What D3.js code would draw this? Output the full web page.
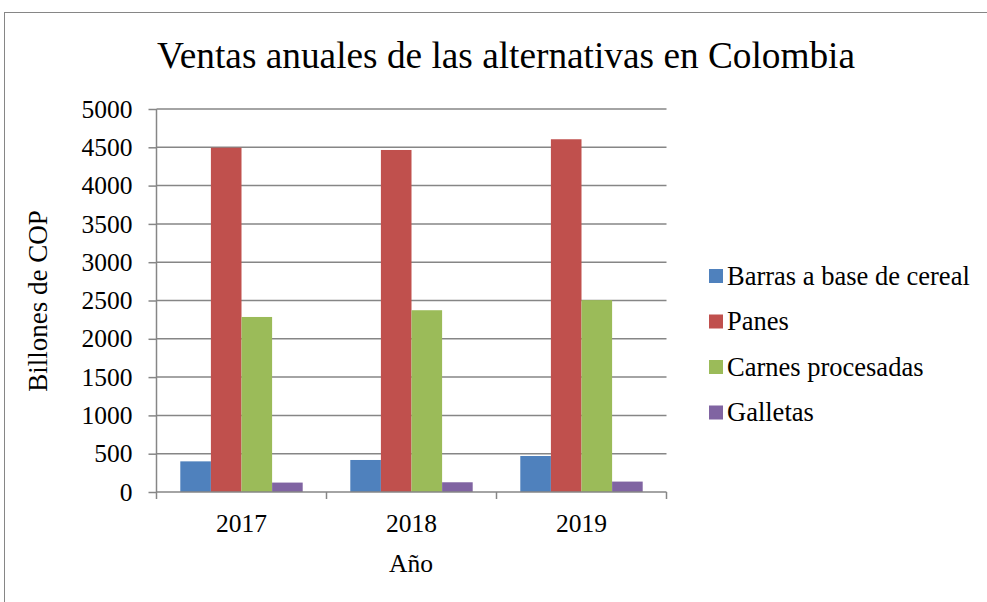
<!DOCTYPE html>
<html>
<head>
<meta charset="utf-8">
<script src="https://cdn.jsdelivr.net/npm/d3@7"></script>
<style>
  html, body { margin: 0; padding: 0; background: #fff; }
  svg { display: block; }
  svg text { font-family: "Liberation Serif", "Times New Roman", serif !important; fill: #000; }
</style>
</head>
<body>
<svg id="chart" width="987" height="602"></svg>
<script>
// Annual sales, billions of COP
const years = ["2017", "2018", "2019"];
const seriesNames = ["Barras a base de cereal", "Panes", "Carnes procesadas", "Galletas"];
const barras = [400, 418, 470];
const panes = [4495, 4465, 4605];
const carnes = [2285, 2373, 2505];
const galletas = [123, 127, 136];
const seriesColors = ["#4F81BD", "#C0504D", "#9BBB59", "#8064A2"];
const yTicks = [0, 500, 1000, 1500, 2000, 2500, 3000, 3500, 4000, 4500, 5000];

const seriesValues = [barras, panes, carnes, galletas];

const svg = d3.select("#chart");
const W = 987, H = 602;
const plot = { left: 156.5, right: 666.5, top: 109, bottom: 492 };
const labelSize = 25.5;

// Outer chart frame
svg.append("rect")
  .attr("x", 4.5).attr("y", 12.5)
  .attr("width", W + 10).attr("height", H + 10)
  .attr("fill", "#fff").attr("stroke", "#868686").attr("stroke-width", 1);

const x0 = d3.scaleBand().domain(years).range([plot.left, plot.right]).paddingInner(0).paddingOuter(0);
const groupPad = 0.14;
const x1 = d3.scaleBand().domain(seriesNames)
  .range([x0.bandwidth() * groupPad, x0.bandwidth() * (1 - groupPad)]);
const y = d3.scaleLinear().domain([0, 5000]).range([plot.bottom, plot.top]);

// Horizontal gridlines
svg.append("g").selectAll("line").data(yTicks.filter(d => d > 0)).join("line")
  .attr("x1", plot.left).attr("x2", plot.right)
  .attr("y1", d => y(d)).attr("y2", d => y(d))
  .attr("stroke", "#868686").attr("stroke-width", 1.5);

// Bars
const rows = years.map((yr, i) => ({ year: yr, vals: seriesNames.map((s, j) => ({ s, j, v: seriesValues[j][i] })) }));
svg.append("g").selectAll("g").data(rows).join("g")
  .attr("transform", d => `translate(${x0(d.year)},0)`)
  .selectAll("rect").data(d => d.vals).join("rect")
  .attr("x", d => x1(d.s)).attr("width", x1.bandwidth())
  .attr("y", d => y(d.v)).attr("height", d => y(0) - y(d.v))
  .attr("fill", d => seriesColors[d.j]);

// Y axis
const yAxis = d3.axisLeft(y).tickValues(yTicks).tickSize(8).tickPadding(16).tickFormat(d3.format("d"));
const gy = svg.append("g").attr("transform", `translate(${plot.left},0)`).call(yAxis)
  .attr("font-family", null).attr("font-size", labelSize);
gy.select(".domain").attr("stroke", "#868686").attr("stroke-width", 1.5).attr("d", `M0,${plot.top}V${plot.bottom}`);
gy.selectAll(".tick line").attr("stroke", "#868686").attr("stroke-width", 1.5);
gy.selectAll(".tick text").attr("fill", "#000");

// X axis: tick marks at category boundaries, labels centered
const gx = svg.append("g").attr("transform", `translate(0,${plot.bottom})`);
gx.append("line").attr("x1", plot.left).attr("x2", plot.right).attr("y1", 0).attr("y2", 0)
  .attr("stroke", "#868686").attr("stroke-width", 1.5);
const bounds = years.map(d => x0(d)).concat([plot.right]);
gx.selectAll("line.tk").data(bounds).join("line").attr("class", "tk")
  .attr("x1", d => d).attr("x2", d => d).attr("y1", 0).attr("y2", 7)
  .attr("stroke", "#868686").attr("stroke-width", 1.5);
gx.selectAll("text").data(years).join("text")
  .attr("x", d => x0(d) + x0.bandwidth() / 2).attr("y", 40)
  .attr("text-anchor", "middle").attr("font-size", labelSize).text(d => d);

// Titles
svg.append("text").attr("x", 506).attr("y", 68).attr("text-anchor", "middle")
  .attr("font-size", 37.3).text("Ventas anuales de las alternativas en Colombia");
svg.append("text").attr("x", 411).attr("y", 572).attr("text-anchor", "middle")
  .attr("font-size", labelSize).text("Año");
svg.append("text").attr("transform", "translate(47,301) rotate(-90)").attr("text-anchor", "middle")
  .attr("font-size", 27).text("Billones de COP");

// Legend
const lg = svg.append("g").selectAll("g").data(seriesNames).join("g")
  .attr("transform", (d, i) => `translate(709,${276 + i * 45.5})`);
lg.append("rect").attr("x", 0).attr("y", -7).attr("width", 14).attr("height", 14)
  .attr("fill", (d, i) => seriesColors[i]);
lg.append("text").attr("x", 18).attr("y", 8.5).attr("font-size", 26.5).text(d => d);
</script>
</body>
</html>
